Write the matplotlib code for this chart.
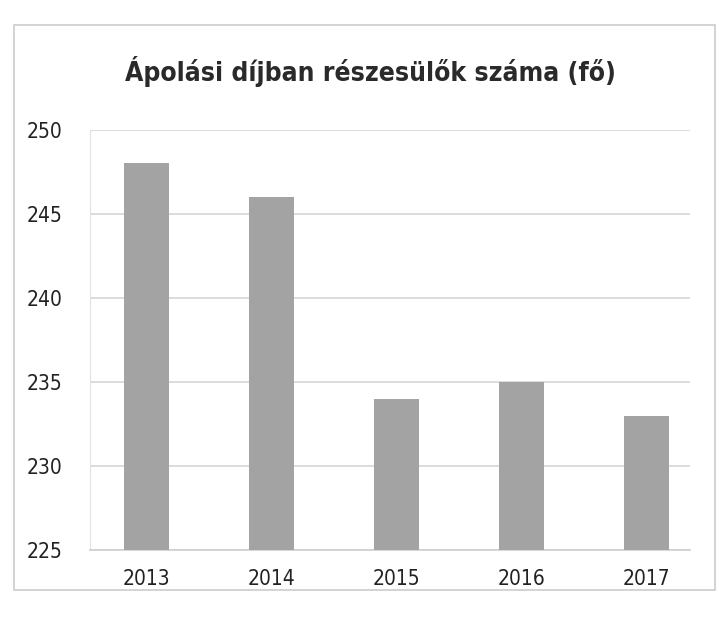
import matplotlib
matplotlib.use("Agg")
import matplotlib.pyplot as plt
from matplotlib.patches import Rectangle

years = ["2013", "2014", "2015", "2016", "2017"]
values = [248, 246, 234, 235, 233]
yticks = [225, 230, 235, 240, 245, 250]
title = "Ápolási díjban részesülők száma (fő)"

plt.rcParams['font.family'] = ['DejaVu Sans']
plt.rcParams['font.stretch'] = 'condensed'

fig = plt.figure(figsize=(7.19, 6.18), dpi=100)
ax = fig.add_axes([0.125, 0.11, 0.835, 0.68])

x = range(len(years))
ax.bar(x, values, width=0.36, color='#a3a3a3', zorder=3)

ax.set_ylim(225, 250)
ax.set_xlim(-0.45, 4.35)
ax.set_yticks(yticks)
ax.set_xticks(list(x))
ax.set_xticklabels(years)
ax.tick_params(axis='both', length=0, labelsize=15, colors='#222222')
ax.tick_params(axis='x', pad=14)
ax.tick_params(axis='y', pad=20)
ax.grid(axis='y', color='#d6d6d6', linewidth=1.2, zorder=0)
for s in ['top', 'right']:
    ax.spines[s].set_visible(False)
ax.spines['left'].set_color('#e2e2e2')
ax.spines['bottom'].set_color('#cfcfcf')
ax.spines['bottom'].set_linewidth(1.2)

fig.text(0.515, 0.885, title, ha='center', va='center', fontsize=19,
         fontweight='bold', color='#2a2a2a')

# outer chart frame
fig.patches.append(Rectangle((0.02, 0.045), 0.975, 0.915, transform=fig.transFigure,
                             fill=False, edgecolor='#cccccc', linewidth=1.2))

fig.savefig("out.png", dpi=100)
